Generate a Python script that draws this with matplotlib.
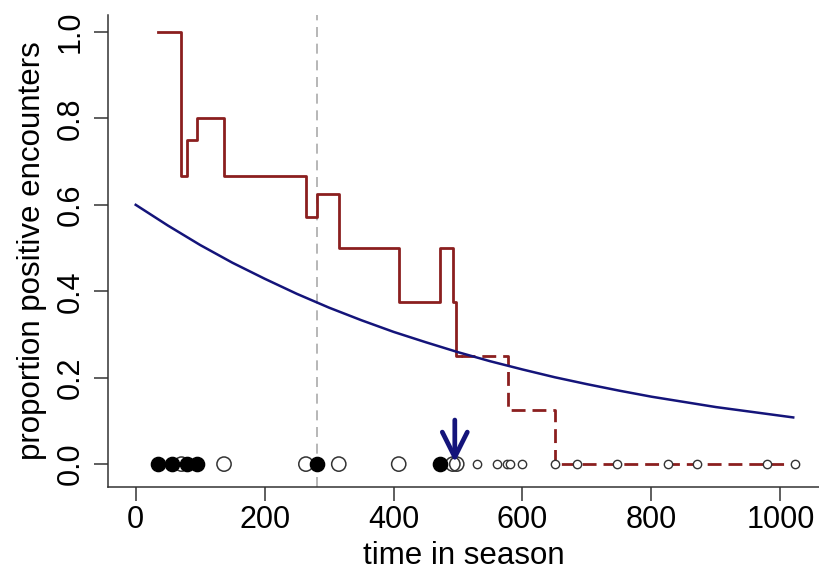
import matplotlib
matplotlib.use("Agg")
import matplotlib.pyplot as plt

plt.rcParams['font.family'] = ['Liberation Sans', 'DejaVu Sans']

# proportion of positive encounters (last 8 encounters), step changes
step_times = [34, 71, 79, 95, 137, 264, 282, 315, 408, 472, 492, 497, 577, 650, 1023]
step_props = [1.0, 0.667, 0.75, 0.8, 0.667, 0.571, 0.625, 0.5, 0.375, 0.5, 0.375, 0.25, 0.125, 0.0, 0.0]
observed_until = 505

# fitted decline of positive encounters
fit_times = [0, 50, 100, 150, 200, 250, 300, 350, 400, 450, 500, 550, 600,
             650, 700, 750, 800, 850, 900, 950, 1000, 1020]
fit_props = [0.600, 0.552, 0.507, 0.466, 0.429, 0.394, 0.362, 0.333, 0.306, 0.282,
             0.259, 0.238, 0.219, 0.201, 0.185, 0.170, 0.156, 0.144, 0.132, 0.122,
             0.112, 0.108]

# individual encounters
positive_times = [34, 57, 79, 95, 282, 472]
negative_times = [71, 137, 264, 315, 408, 492, 498]
later_times = [529, 560, 576, 580, 599, 650, 684, 746, 826, 870, 979, 1023]

current_time = 495
reference_time = 282

fig = plt.figure(figsize=(8.19, 5.76), dpi=100)
ax = fig.add_axes([108 / 819, 89 / 576, 711 / 819, 472.3 / 576])

red = '#8b1f1f'
navy = '#14147a'

# split step curve into observed (solid) and projected (dashed) parts
obs_t = [t for t in step_times if t <= observed_until]
obs_p = step_props[:len(obs_t)]
obs_t = obs_t + [observed_until]
obs_p = obs_p + [obs_p[-1]]
proj_t = [observed_until] + step_times[len(obs_t) - 1:]
proj_p = [obs_p[-1]] + step_props[len(obs_t) - 1:]

ax.axvline(reference_time, color='#aaaaaa', lw=1.2, ls=(0, (6, 4)), zorder=1)

ax.plot(obs_t, obs_p, drawstyle='steps-post', color=red, lw=2.0, zorder=3)
ax.plot(proj_t, proj_p, drawstyle='steps-post', color=red, lw=2.0,
        ls=(0, (5, 2.5)), zorder=3)
ax.plot(fit_times, fit_props, color=navy, lw=1.8, zorder=3)

ax.scatter(negative_times, [0] * len(negative_times), s=105, facecolors='none',
           edgecolors='#333333', linewidths=1.1, zorder=4)
ax.scatter(later_times, [0] * len(later_times), s=36, facecolors='white',
           edgecolors='#333333', linewidths=1.0, zorder=4)
ax.scatter(positive_times, [0] * len(positive_times), s=105, color='black',
           zorder=5)

ax.annotate('', xy=(current_time, 0.004), xytext=(current_time, 0.102),
            arrowprops=dict(arrowstyle='->, head_length=0.9, head_width=0.45',
                            mutation_scale=20, color=navy, lw=3.4,
                            shrinkA=0, shrinkB=0),
            zorder=6)

ax.set_xlim(-43, 1060)
ax.set_ylim(-0.053, 1.04)
ax.set_xticks([0, 200, 400, 600, 800, 1000])
ax.set_yticks([0.0, 0.2, 0.4, 0.6, 0.8, 1.0])
ax.set_yticklabels(['0.0', '0.2', '0.4', '0.6', '0.8', '1.0'],
                   rotation=90, va='center')

for side in ['top', 'right']:
    ax.spines[side].set_visible(False)
for side in ['left', 'bottom']:
    ax.spines[side].set_color('#333333')
    ax.spines[side].set_linewidth(1.1)

ax.tick_params(axis='both', length=10, width=1.1, color='#333333',
               labelsize=22, pad=3)
ax.tick_params(axis='y', pad=6)

ax.set_xlabel('time in season', fontsize=22.5, labelpad=4)
ax.set_ylabel('proportion positive encounters', fontsize=22.5, labelpad=6)

fig.savefig('out.png', dpi=100)
